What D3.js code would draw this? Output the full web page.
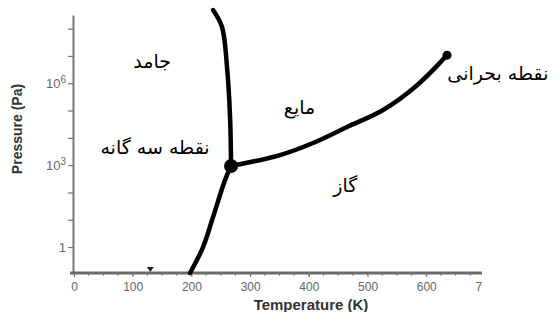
<!DOCTYPE html>
<meta charset="utf-8">
<script src="https://d3js.org/d3.v7.min.js"></script>
<style>
  body { margin: 0; background: #fff; }
  text { font-family: "Liberation Sans", Arial, sans-serif; }
  .fa { font-family: "DejaVu Sans", sans-serif; font-size: 19px; fill: #000; direction: rtl; }
</style>
<svg id="chart" width="555" height="312"></svg>
<script>

// temperature (K) / pressure (Pa)
var sublT = [197.6, 219.8, 236.8, 257.2, 267.5]
var sublP = [0.112, 1, 12.6, 283, 930]

var meltT = [267.5, 265.8, 260.6, 252.1, 236.8]
var meltP = [930, 5.75e4, 3.9e6, 1.15e8, 4.8e8]

var vapT = [267.5, 350.9, 407.2, 465.1, 526.4, 584.3, 635.4]
var vapP = [930, 2340, 6460, 2.5e4, 1.05e5, 8.5e5, 1.07e7]

var tripleT = 267.5, tripleP = 930
var critT = 635.4, critP = 1.07e7
var markT = 130

var xTicks = [0, 100, 200, 300, 400, 500, 600, 700]
var yTicks = [1, 10, 100, 1e3, 1e4, 1e5, 1e6, 1e7, 1e8]
var yLabels = {1: ["1", ""], 1000: ["10", "3"], 1000000: ["10", "6"]}

// region labels (persian)
var labels = [
  {t: "جامد", T: 133, P: 6e6},
  {t: "مایع", T: 384, P: 1.15e5},
  {t: "نقطه سه گانه", T: 138, P: 4000},
  {t: "گاز", T: 462, P: 160},
  {t: "نقطه بحرانی", T: 722, P: 2.1e6}
]

var svg = d3.select("#chart")

var x = d3.scaleLinear().domain([0, 700]).range([74, 485])
var y = d3.scaleLog().domain([0.112, Math.pow(10, 8.5)]).range([273, 15])

// y axis
var yAxis = svg.append("g")
  .attr("transform", "translate(73,0)")
  .call(d3.axisLeft(y).tickValues(yTicks).tickSize(5).tickSizeOuter(0).tickFormat(""))
yAxis.select(".domain").attr("stroke", "#777").attr("stroke-width", 2)
yAxis.selectAll(".tick line").attr("stroke", "#777").attr("stroke-width", 1.2)

yTicks.forEach(function(v) {
  if (!yLabels[v]) return
  var t = svg.append("text")
    .attr("x", 66).attr("y", y(v) + 5)
    .attr("text-anchor", "end")
    .attr("font-size", 13).attr("fill", "#666")
  t.append("tspan").text(yLabels[v][0])
  if (yLabels[v][1]) t.append("tspan").attr("dy", -5).attr("font-size", 10).text(yLabels[v][1])
})

// x axis (the 700 label is cut at the right end, as in the source)
svg.append("clipPath").attr("id", "xclip")
  .append("rect").attr("x", 0).attr("y", -10).attr("width", 482).attr("height", 45)

var xMinor = d3.range(0, 700, 25)
svg.append("g")
  .attr("transform", "translate(0,273)")
  .selectAll("line").data(xMinor).join("line")
    .attr("x1", d => x(d)).attr("x2", d => x(d))
    .attr("y1", -1).attr("y2", 3)
    .attr("stroke", "#888")

var xAxis = svg.append("g")
  .attr("transform", "translate(0,273)")
  .attr("clip-path", "url(#xclip)")
  .call(d3.axisBottom(x).tickValues(xTicks).tickSize(4).tickSizeOuter(0))
xAxis.select(".domain").attr("stroke", "#6a6a6a").attr("stroke-width", 3)
  .attr("d", "M70,0H482")
xAxis.selectAll(".tick line").attr("stroke", "#777")
xAxis.selectAll(".tick text").attr("font-size", 12).attr("fill", "#666")
  .attr("font-family", "Liberation Sans, Arial, sans-serif").attr("dy", "0.9em")

// axis titles
svg.append("text")
  .attr("x", 311).attr("y", 310)
  .attr("text-anchor", "middle")
  .attr("font-size", 15).attr("font-weight", "bold").attr("fill", "#333")
  .text("Temperature (K)")

svg.append("text")
  .attr("transform", "translate(22,129) rotate(-90)")
  .attr("text-anchor", "middle")
  .attr("font-size", 14).attr("font-weight", "bold").attr("fill", "#333")
  .text("Pressure (Pa)")

// phase boundaries
var line = d3.line()
  .x(d => x(d[0]))
  .y(d => y(d[1]))
  .curve(d3.curveCatmullRom)

function drawCurve(ts, ps) {
  svg.append("path")
    .datum(d3.zip(ts, ps))
    .attr("d", line)
    .attr("fill", "none")
    .attr("stroke", "#000")
    .attr("stroke-width", 4.5)
    .attr("stroke-linecap", "round")
}
drawCurve(sublT, sublP)
drawCurve(meltT, meltP)
drawCurve(vapT, vapP)

svg.append("circle").attr("cx", x(tripleT)).attr("cy", y(tripleP)).attr("r", 7).attr("fill", "#000")
svg.append("circle").attr("cx", x(critT)).attr("cy", y(critP)).attr("r", 4.5).attr("fill", "#000")

// little marker on the axis
svg.append("path")
  .attr("transform", "translate(" + x(markT) + ",270)")
  .attr("d", "M-3.5,-3L3.5,-3L0,2Z")
  .attr("fill", "#222")

// labels
svg.selectAll(".fa").data(labels).join("text")
  .attr("class", "fa")
  .attr("x", d => x(d.T)).attr("y", d => y(d.P))
  .attr("text-anchor", "middle")
  .attr("dominant-baseline", "middle")
  .text(d => d.t)

</script>
